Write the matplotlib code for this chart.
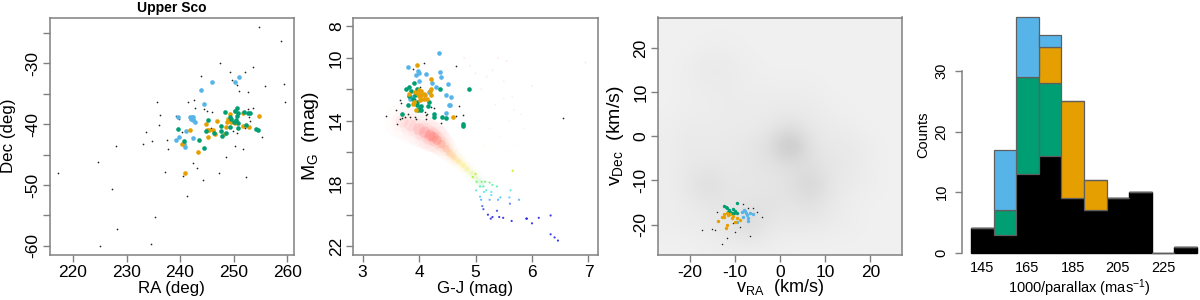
import numpy as np
import matplotlib
matplotlib.use('Agg')
import matplotlib.pyplot as plt
from matplotlib.colors import LinearSegmentedColormap

# panel 1, sky positions
ra_black = [254.75,258.9,247.45,249.3,252.2,253.6,243.95,249.7,250.6,251.1,252.7,255.9,259.4,259.55,235.6,236.3,236.0,233.6,233.0,234.7,237.5,237.7,228.0,224.6,217.25,227.2,241.3,235.35,228.2,225.1,234.5,237.1,242.4,243.1,247.3,252.4,240.5,244.2,248.6,250.3,251.8,241.5,242.6,244.4,242.8,245.1,245.9,253.6,252.7,252.8,253.0,239.8,239.2,240.4,250.7,249.9,252.2,255.3,245.8,242.6]
dec_black = [-24.0,-26.3,-29.95,-31.4,-31.5,-30.7,-32.1,-32.8,-33.6,-34.6,-34.8,-33.8,-33.4,-36.3,-36.3,-38.5,-40.1,-41.3,-43.2,-42.8,-42.6,-44.15,-43.55,-46.2,-48.1,-50.65,-51.8,-55.3,-57.3,-60.05,-59.7,-47.8,-46.4,-47.2,-48.0,-48.75,-48.6,-49.2,-45.35,-43.55,-44.05,-36.3,-36.1,-37.55,-37.3,-37.9,-38.0,-37.3,-37.5,-38.8,-39.55,-39.2,-38.7,-41.3,-41.4,-41.15,-40.6,-42.1,-40.7,-39.1]
ra_blue = [251.0,250.3,246.0,244.0,244.4,239.65,241.9,242.2,242.5,242.0,242.4,242.8,241.1,239.8,239.2,242.5,240.8,241.0]
dec_blue = [-32.3,-33.1,-33.1,-34.4,-36.7,-38.9,-38.9,-38.8,-38.8,-39.2,-39.3,-39.7,-41.1,-42.1,-42.6,-42.3,-43.2,-43.8]
ra_green = [239.65,245.3,248.4,250.6,250.3,250.9,250.6,249.4,249.6,250.0,250.5,250.8,247.6,249.4,250.8,252.0,252.75,253.05,252.4,254.1,254.5,244.8,246.3,247.6,248.6,247.8,240.7,243.5,244.5]
dec_green = [-40.8,-39.4,-38.0,-37.3,-37.8,-38.25,-38.6,-38.8,-39.2,-39.6,-39.3,-39.8,-40.3,-40.4,-40.6,-38.0,-38.25,-38.2,-40.2,-40.8,-41.0,-41.1,-41.5,-41.1,-41.5,-42.0,-42.7,-42.6,-44.0]
ra_orange = [254.7,251.7,249.4,250.2,246.95,249.0,248.8,250.4,250.3,249.5,244.9,241.8,245.0,245.45,246.1,248.6,251.7,252.9,246.6,248.3,245.2,240.3,243.4,241.0]
dec_orange = [-38.6,-38.25,-38.3,-37.9,-39.45,-39.2,-39.7,-39.45,-39.8,-39.7,-40.05,-41.0,-41.0,-41.0,-41.0,-40.5,-40.3,-40.4,-41.6,-41.7,-42.2,-43.2,-44.6,-48.0]

# panel 2, colour magnitude
gj_black = [4.09,3.9,4.65,3.41,3.6,3.67,3.68,3.61,3.66,3.7,3.76,3.81,3.84,3.93,3.95,4.01,4.10,4.12,4.14,4.12,4.26,4.22,4.7,4.78,4.66,4.39,6.55,4.78,4.01,3.93]
mg_black = [10.35,10.7,10.5,13.7,13.35,12.7,12.9,14.2,13.9,13.85,13.8,13.6,13.75,13.75,13.9,13.4,13.45,13.65,13.55,13.9,13.2,13.15,13.1,13.65,13.7,14.15,13.85,14.15,11.85,12.6]
gj_blue = [4.35,3.81,3.99,4.0,3.94,4.12,4.38,4.39,4.0,4.23,4.52,4.30,4.17,4.48,4.56,4.53,4.55,4.47,3.84,3.88]
mg_blue = [9.7,10.6,10.85,10.95,11.1,11.0,10.9,11.25,11.45,11.6,11.65,11.85,12.15,12.4,12.5,13.0,13.0,13.5,12.6,12.5]
gj_green = [4.88,3.77,3.82,3.85,3.91,3.97,4.37,3.82,3.93,3.90,3.97,3.80,3.70,3.96,4.04,4.01,4.03,4.18,4.16,4.27,4.27,4.41,4.47,4.78,4.78,3.99]
mg_green = [12.0,12.0,11.85,12.1,11.6,12.0,12.0,12.45,12.35,12.6,12.8,13.0,13.55,13.0,13.1,13.2,13.35,12.8,13.05,13.6,13.8,13.8,13.85,14.25,14.35,13.3]
gj_orange = [3.97,4.22,4.22,4.2,4.21,3.93,4.0,4.03,3.83,3.99,4.03,4.09,4.0,4.04,4.09,4.14,3.91,4.01,3.90,3.95,4.6,4.10]
mg_orange = [10.45,11.35,12.0,12.1,12.35,12.15,12.05,12.1,12.3,12.3,12.35,12.3,12.45,12.6,12.65,12.65,12.8,12.7,12.95,13.3,13.8,12.35]

# field sequence behind the members
gj_locus = [3.7,3.85,4.0,4.1,4.2,4.25,4.32,4.4,4.48,4.55,4.62,4.7,4.78,4.85,4.93,5.0,5.06,5.11]
mg_locus = [14.05,14.3,14.55,14.75,14.95,15.05,15.25,15.5,15.8,16.1,16.35,16.6,16.85,17.1,17.35,17.6,17.85,18.1]
spread_locus = [26,26,25,24,23,22,20,18,16,14,12,11,10,10,10,10,10,10]
weight_locus = [.15,.25,.45,.7,.95,1,1,.9,.85,.85,.9,.95,1,.85,.6,.4,.3,.25]
gj_sparse = [5.01,5.08,5.10,5.12,5.14,5.22,5.27,5.30,5.42,5.49,5.38,5.64,5.61,5.60,5.62,5.77,5.90,5.91,6.0,6.12,6.33,6.33,6.40,6.46,5.11,5.17,5.25,5.08,5.14,5.38,5.40,5.28,5.19,5.15,5.25,5.28,4.95,5.02,5.0,5.3,5.44,5.66]
mg_sparse = [18.45,18.85,19.05,19.45,19.65,20.0,20.25,20.15,20.15,20.2,19.75,20.4,19.3,18.9,18.45,19.05,20.25,20.25,20.55,20.2,20.05,21.25,21.45,21.65,17.9,17.9,17.95,18.2,18.2,18.2,19.05,18.55,18.45,18.55,19.05,18.75,17.6,17.9,17.4,18.1,18.9,17.2]
gj_faint = [5.4,5.55,5.65,5.3,5.5,5.8,5.2,5.6,5.75,5.45,5.35,5.1,5.0,4.9,5.25,5.55,5.65,6.95,6.0,4.8,5.15,5.5,5.68,5.85]
mg_faint = [10.0,10.2,12.5,10.8,11.5,13.6,11.2,14.0,15.5,15.0,13.0,12.0,11.0,10.5,14.5,16.0,17.2,10.3,11.8,10.0,15.6,12.6,13.3,14.5]

# panel 3, proper motions: smoothed field density on a coarse grid, top row first
vra_grid = [-24.75,-20.25,-15.75,-11.25,-6.75,-2.25,2.25,6.75,11.25,15.75,20.25,24.75]
vdec_grid = [24.75,20.25,15.75,11.25,6.75,2.25,-2.25,-6.75,-11.25,-15.75,-20.25,-24.75]
field_density = [
    [.06,.06,.06,.06,.06,.06,.06,.06,.06,.06,.06,.06],
    [.06,.06,.07,.07,.06,.06,.06,.06,.06,.06,.06,.06],
    [.06,.07,.09,.08,.07,.06,.06,.06,.06,.06,.06,.06],
    [.06,.07,.08,.08,.07,.07,.07,.07,.06,.06,.06,.06],
    [.06,.07,.07,.08,.08,.08,.08,.08,.07,.06,.06,.06],
    [.07,.08,.08,.08,.08,.09,.12,.09,.08,.07,.06,.06],
    [.07,.09,.08,.09,.10,.13,.27,.11,.09,.09,.07,.06],
    [.07,.09,.10,.09,.10,.11,.12,.13,.10,.09,.07,.06],
    [.07,.10,.14,.10,.10,.10,.12,.18,.10,.08,.07,.06],
    [.07,.08,.10,.10,.11,.12,.10,.12,.09,.07,.06,.06],
    [.07,.08,.08,.11,.16,.09,.09,.09,.08,.07,.06,.06],
    [.06,.06,.07,.07,.07,.07,.06,.06,.06,.06,.06,.06],
]
vra_black = [-17.35,-15.1,-14.4,-12.9,-11.8,-9.95,-6.6,-8.1,-7.0,-5.15,-4.05,-5.9,-10.3,-8.85,-14.0]
vdec_black = [-21.2,-21.0,-21.3,-24.5,-23.1,-21.6,-22.7,-15.3,-16.3,-17.05,-18.2,-16.3,-19.7,-20.45,-17.05]
vra_blue = [-8.45,-7.95,-7.35,-8.1,-7.0,-6.6,-6.05,-7.6,-7.0,-9.45,-7.75]
vdec_blue = [-17.05,-16.7,-17.8,-18.2,-18.6,-17.45,-17.6,-17.45,-19.1,-19.35,-16.85]
vra_green = [-12.4,-11.95,-11.35,-11.05,-10.3,-9.6,-9.95,-9.45,-10.7,-10.2,-11.8,-11.4]
vdec_green = [-15.8,-16.1,-16.7,-17.05,-16.55,-15.15,-16.85,-17.45,-17.45,-17.45,-16.3,-17.2]
vra_orange = [-13.7,-12.85,-12.4,-11.8,-11.05,-10.3,-9.6,-10.7,-9.95,-8.85,-11.8,-11.95,-11.4,-12.5]
vdec_orange = [-19.1,-18.2,-17.6,-17.3,-17.6,-18.05,-18.6,-18.6,-19.35,-18.95,-20.1,-20.85,-17.8,-18.35]

# panel 4, stacked histogram
bin_left = [140,150,160,170,180,190,200,210,220,230]
hist_black = [4,3,13,16,9,7,9,10,0,1]
hist_green = [0,4,16,12,0,0,0,0,0,0]
hist_orange = [0,0,0,6,16,5,0,0,0,0]
hist_blue = [0,10,10,2,0,0,0,0,0,0]

BLUE = '#56B4E9'
GREEN = '#009E73'
ORANGE = '#E69F00'
GREY = '#808080'

plt.rcParams['font.family'] = ['Liberation Sans', 'DejaVu Sans']
plt.rcParams['mathtext.default'] = 'regular'
plt.rcParams['axes.edgecolor'] = GREY
plt.rcParams['xtick.color'] = GREY
plt.rcParams['ytick.color'] = GREY
plt.rcParams['xtick.labelcolor'] = 'black'
plt.rcParams['ytick.labelcolor'] = 'black'

W, H = 1200.0, 300.0
fig = plt.figure(figsize=(12, 3), dpi=100)


def make_axes(x0, x1, y0, y1):
    return fig.add_axes([x0/W, 1-y1/H, (x1-x0)/W, (y1-y0)/H])


def style(ax, xticks, yticks, ylabels, xlabel, ylabel, size=12.5, lab_size=12.2, ylab_size=12.2, ylab_x=9, xlab_y=288):
    ax.set_xticks(xticks, [str(t) for t in xticks], fontsize=size)
    ax.set_yticks(yticks, ylabels, fontsize=size, rotation=90, va='center')
    ax.tick_params(length=5, width=1, pad=2)
    for s in ax.spines.values():
        s.set_linewidth(1.1)
    pos = ax.get_position()
    fig.text(pos.x0 + pos.width/2, 1-xlab_y/H, xlabel, ha='center', va='center', fontsize=lab_size)
    fig.text(ylab_x/W, pos.y0 + pos.height/2, ylabel, ha='center', va='center', rotation=90, fontsize=ylab_size)


def members(ax, xb, yb, groups, s_black=1.5, s=11):
    ax.scatter(xb, yb, s=s_black, c='#222222', lw=0, zorder=3)
    for x, y, c in groups:
        ax.scatter(x, y, s=s, c=c, lw=0, zorder=4)


# sky
ax1 = make_axes(49.5, 293.5, 17.5, 255)
ax1.set_xlim(215.6, 261.2)
ax1.set_ylim(-61.5, -22.5)
members(ax1, ra_black, dec_black, [(ra_blue, dec_blue, BLUE), (ra_orange, dec_orange, ORANGE), (ra_green, dec_green, GREEN)])
style(ax1, [220, 230, 240, 250, 260], list(range(-60, -24, 5)), ['-60', '', '-50', '', '-40', '', '-30', ''], 'RA (deg)', 'Dec (deg)')
fig.text(172/W, 1-8/H, 'Upper Sco', ha='center', va='center', fontsize=10, fontweight='bold')

# colour magnitude
ax2 = make_axes(353.5, 597.5, 17.5, 255)
ax2.set_xlim(2.84, 7.16)
ax2.set_ylim(22.57, 7.43)
locus_cmap = LinearSegmentedColormap.from_list('locus', ['#ff5050', '#ff7040', '#ffa020', '#ffe000', '#b0f000', '#40f0a0', '#40e0ff', '#4060ff', '#1010e0'])
locus_col = locus_cmap((np.array(mg_locus) - 15.0) / 5.0)
sp = np.array(spread_locus, dtype=float)
wt = np.array(weight_locus)
for scale, strength in [(1.0, 0.025), (0.35, 0.05), (0.12, 0.16)]:
    col = locus_col.copy()
    col[:, 3] = strength * (0.3 + wt)
    ax2.scatter(gj_locus, mg_locus, s=sp*sp*scale, c=col, lw=0, zorder=1)
ax2.scatter(gj_sparse, mg_sparse, s=2.5, c=locus_cmap((np.array(mg_sparse) - 15.0) / 5.0), lw=0, alpha=0.8, zorder=2)
ax2.scatter(gj_faint, mg_faint, s=2, c=locus_cmap((np.array(mg_faint) - 10.0) / 14.0), lw=0, alpha=0.12, zorder=2)
members(ax2, gj_black, mg_black, [(gj_blue, mg_blue, BLUE), (gj_green, mg_green, GREEN), (gj_orange, mg_orange, ORANGE)])
style(ax2, [3, 4, 5, 6, 7], [8, 10, 12, 14, 16, 18, 20, 22], ['8', '10', '', '14', '', '18', '', '22'], 'G-J (mag)', 'M$_G$  (mag)', ylab_x=310, ylab_size=14)

# proper motions
ax3 = make_axes(658, 902, 17.5, 255)
ax3.imshow(field_density, cmap='gray_r', vmin=0, vmax=1, interpolation='bicubic', aspect='auto', zorder=1,
           extent=[vra_grid[0]-2.25, vra_grid[-1]+2.25, vdec_grid[-1]-2.25, vdec_grid[0]+2.25])
ax3.set_xlim(-27, 27)
ax3.set_ylim(-26.9, 26.9)
members(ax3, vra_black, vdec_black, [(vra_blue, vdec_blue, BLUE), (vra_green, vdec_green, GREEN), (vra_orange, vdec_orange, ORANGE)], s_black=1.2, s=6)
style(ax3, [-20, -10, 0, 10, 20], [-20, -10, 0, 10, 20], ['-20', '-10', '0', '10', '20'], 'v$_{RA}$  (km/s)', 'v$_{Dec}$  (km/s)', ylab_x=616, xlab_y=288, lab_size=13, ylab_size=14)

# distance histogram
ax4 = make_axes(962.3, 1197, 16.7, 252.7)
ax4.set_xlim(136.15, 240)
ax4.set_ylim(0, 39)
black_edges = ['black' if c > 0 else GREY for c in hist_black]
ax4.bar(bin_left, hist_black, width=10, align='edge', color='black', edgecolor=black_edges, linewidth=1, zorder=2, clip_on=False)
bottom = np.array(hist_black, dtype=float)
for counts, col in [(hist_green, GREEN), (hist_orange, ORANGE), (hist_blue, BLUE)]:
    ax4.bar(bin_left, counts, width=10, bottom=bottom, align='edge', color=col, edgecolor='#5f5f5f', linewidth=0.9, zorder=3, clip_on=False)
    bottom = bottom + np.array(counts)
for s in ['top', 'right', 'bottom']:
    ax4.spines[s].set_visible(False)
ax4.spines['left'].set_bounds(0, 30)
style(ax4, [145, 165, 185, 205, 225], [0, 10, 20, 30], ['0', '10', '20', '30'], '1000/parallax (mas$^{-1}$)', 'Counts', size=10.5, lab_size=10.5, ylab_size=10.5, ylab_x=923, xlab_y=288)
ax4.tick_params(axis='x', length=0, pad=6)
ax4.tick_params(axis='y', pad=5)

fig.savefig('out.png', dpi=100)
